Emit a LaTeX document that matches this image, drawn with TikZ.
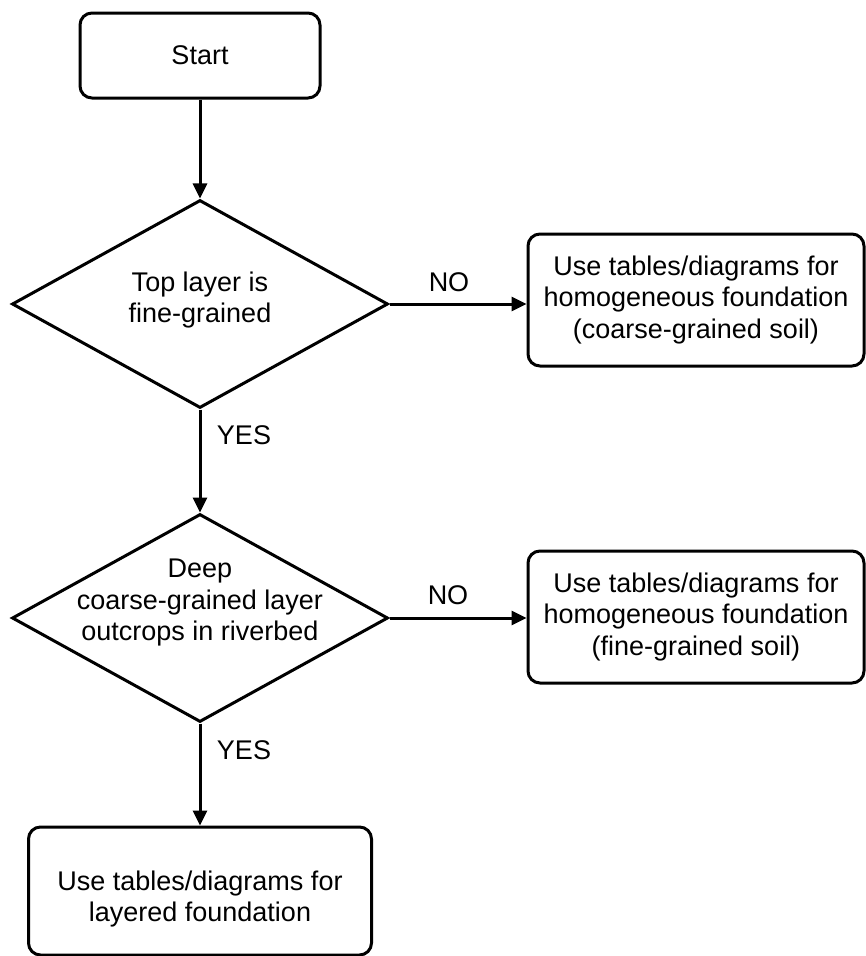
\documentclass[tikz,border=0pt]{standalone}
\usepackage{fontspec}
\setmainfont{Liberation Sans}
\usetikzlibrary{shapes.geometric,arrows.meta}
\begin{document}
\begin{tikzpicture}[x=1pt,y=-1pt,
  every node/.style={font=\fontsize{27}{31.5}\selectfont, align=center},
  box/.style={draw, rounded corners=12pt, line width=3pt, inner sep=0pt},
  decision/.style={draw, diamond, line width=3pt, inner sep=0pt,
                   minimum width=376pt, minimum height=208pt},
  flow/.style={line width=3pt, -{Triangle[length=15pt,width=14pt]}},
  lbl/.style={inner sep=0pt}]
\useasboundingbox (0,0) rectangle (865,956);

% boxes and decisions
\node[box, minimum width=240pt, minimum height=85pt] (start) at (200,55.5) {Start};

\node[decision] (d1) at (200,304) {};
\node (t1) at (200,300) {Top layer is\\fine-grained};

\node[box, minimum width=336pt, minimum height=132pt] (b1) at (696,300)
  {Use tables/diagrams for\\homogeneous foundation\\(coarse-grained soil)};

\node[decision] (d2) at (200,618) {};
\node (t2) at (200,603) {Deep\\coarse-grained layer\\outcrops in riverbed};

\node[box, minimum width=336pt, minimum height=132pt] (b2) at (696,617)
  {Use tables/diagrams for\\homogeneous foundation\\(fine-grained soil)};

\node[box, minimum width=343pt, minimum height=128pt] (b3) at (200,891) {};
\node (t3) at (200,899) {Use tables/diagrams for\\layered foundation};

% connectors
\draw[flow] (start) -- (d1);
\draw[flow] (d1.east) -- (d1.east -| b1.west);
\draw[flow] (d1) -- (d2);
\draw[flow] (d2.east) -- (d2.east -| b2.west);
\draw[flow] (d2) -- (b3);

% branch labels
\node[lbl] (no1) at (449,282) {NO};
\node[lbl] (yes1) at (244,435) {YES};
\node[lbl] (no2) at (448,595) {NO};
\node[lbl] (yes2) at (244,750) {YES};
\end{tikzpicture}
\end{document}
